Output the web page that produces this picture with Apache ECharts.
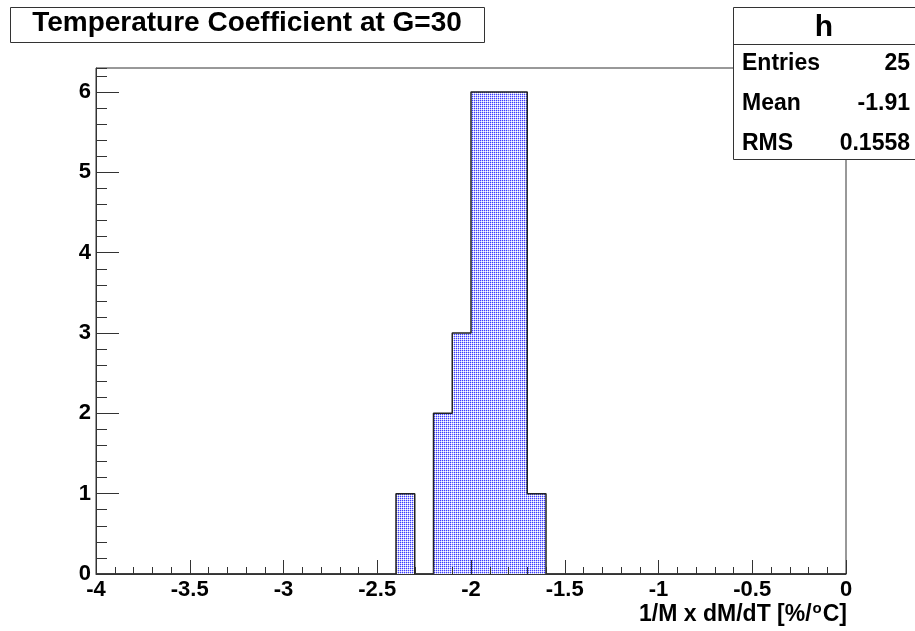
<!DOCTYPE html>
<html><head><meta charset="utf-8">
<script src="https://cdn.jsdelivr.net/npm/echarts@6/dist/echarts.min.js"></script>
<style>html,body{margin:0;padding:0;background:#fff}#c{width:915px;height:631px}</style>
</head><body><div id="c"></div>
<script>
// ---- data ----
const titleText = 'Temperature Coefficient at G=30';
const histName = 'h';
const statLabels = ['Entries', 'Mean', 'RMS'];
const statValues = ['25', '-1.91', '0.1558'];
const binLow = -4, binHigh = 0, binWidth = 0.1;
const counts = [0,0,0,0,0,0,0,0,0,0, 0,0,0,0,0,0,1,0,2,3, 6,6,6,1,0,0,0,0,0,0, 0,0,0,0,0,0,0,0,0,0];
const xAxisTitle = '1/M x dM/dT [%/{s|o}C]';
const yMax = 6.3;

// ---- derived ----
const bins = counts.map((c, i) => [
  +(binLow + i * binWidth).toFixed(6), +(binLow + (i + 1) * binWidth).toFixed(6), c]);
const filled = bins.filter(b => b[2] > 0);
const outline = [];
bins.forEach(b => { outline.push([b[0], b[2]]); outline.push([b[1], b[2]]); });

// dotted fill pattern (ROOT style)
const pc = document.createElement('canvas'); pc.width = 2; pc.height = 2;
const g = pc.getContext('2d');
g.fillStyle = '#ffffff'; g.fillRect(0, 0, 2, 2);
g.fillStyle = '#3c3cff'; g.fillRect(0, 0, 1, 1);
g.fillStyle = '#c4c4ff'; g.fillRect(1, 0, 1, 1); g.fillRect(0, 1, 1, 1);
const pattern = { image: pc, repeat: 'repeat' };

const FONT = 'Liberation Sans';
const lab = { fontFamily: FONT, fontWeight: 'bold', fontSize: 22, color: '#000' };
const frameColor = '#333';

const chart = echarts.init(document.getElementById('c'), null, { renderer: 'canvas' });
chart.setOption({
  animation: false,
  backgroundColor: '#fff',
  grid: { left: 96, right: 69, top: 68, bottom: 57, show: true, borderColor: frameColor, borderWidth: 1, backgroundColor: 'transparent' },
  xAxis: {
    type: 'value', min: binLow, max: binHigh, interval: 0.5, z: 5, position: 'bottom',
    axisLine: { show: true, onZero: false, lineStyle: { color: frameColor, width: 1 } },
    axisTick: { show: true, inside: true, length: 14, lineStyle: { color: frameColor, width: 1 } },
    minorTick: { show: true, splitNumber: 5, length: 7, lineStyle: { color: frameColor, width: 1 } },
    splitLine: { show: false },
    axisLabel: Object.assign({ margin: 5 }, lab)
  },
  yAxis: [{
    type: 'value', min: 0, max: yMax, interval: 1, z: 5, position: 'left', offset: 0,
    axisLine: { show: true, onZero: false, lineStyle: { color: frameColor, width: 1 } },
    axisTick: { show: true, inside: true, length: 23, lineStyle: { color: frameColor, width: 1 } },
    splitLine: { show: false },
    axisLabel: Object.assign({ margin: 5, showMaxLabel: false }, lab)
  }, {
    type: 'value', min: 0, max: yMax, interval: 0.2, position: 'left', offset: 0, z: 4,
    axisLine: { show: false, onZero: false },
    axisTick: { show: true, inside: true, length: 11, lineStyle: { color: frameColor, width: 1 } },
    splitLine: { show: false },
    axisLabel: { show: false }
  }],
  series: [{
    type: 'custom', data: filled, encode: { x: [0, 1], y: 2 }, z: 2,
    renderItem: (params, api) => {
      const p0 = api.coord([api.value(0), api.value(2)]);
      const p1 = api.coord([api.value(1), 0]);
      return { type: 'rect', shape: { x: p0[0], y: p0[1], width: p1[0] - p0[0], height: p1[1] - p0[1] },
               style: { fill: pattern } };
    }
  }, {
    type: 'line', data: outline, showSymbol: false, z: 3,
    lineStyle: { color: '#222', width: 1.5 }, silent: true
  }],
  graphic: [
    { type: 'rect', shape: { x: 10.5, y: 7.5, width: 474, height: 35 }, style: { fill: '#fff', stroke: frameColor, lineWidth: 1 }, z: 10 },
    { type: 'text', x: 247, y: 23, z: 11, style: { text: titleText, fill: '#000', font: 'bold 28px "Liberation Sans"', textAlign: 'center', textVerticalAlign: 'middle' } },
    { type: 'rect', shape: { x: 733.5, y: 7.5, width: 185, height: 152 }, style: { fill: '#fff', stroke: frameColor, lineWidth: 1 }, z: 10 },
    { type: 'line', shape: { x1: 733.5, y1: 44.5, x2: 915, y2: 44.5 }, style: { stroke: frameColor, lineWidth: 1 }, z: 11 },
    { type: 'text', x: 824, y: 28, z: 11, style: { text: histName, fill: '#000', font: 'bold 30px "Liberation Sans"', textAlign: 'center', textVerticalAlign: 'middle' } },
    ...statLabels.map((s, i) => ({ type: 'text', x: 742, y: 64 + i * 40, z: 11,
      style: { text: s, fill: '#000', font: 'bold 23px "Liberation Sans"', textAlign: 'left', textVerticalAlign: 'middle' } })),
    ...statValues.map((s, i) => ({ type: 'text', x: 910, y: 64 + i * 40, z: 11,
      style: { text: s, fill: '#000', font: 'bold 23px "Liberation Sans"', textAlign: 'right', textVerticalAlign: 'middle' } })),
    { type: 'text', x: 847, y: 615, z: 11, style: { text: xAxisTitle, fill: '#000', font: 'bold 23px "Liberation Sans"', textAlign: 'right', textVerticalAlign: 'middle',
      rich: { s: { fontSize: 15, fontWeight: 'bold', fontFamily: FONT, verticalAlign: 'top', padding: [0, 1, 12, 1] } } } }
  ]
});
</script></body></html>
